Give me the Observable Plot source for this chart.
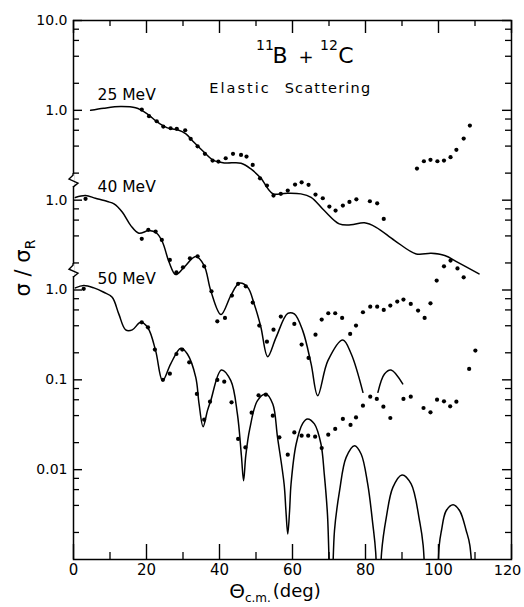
<!DOCTYPE html>
<html><head><meta charset="utf-8">
<script src="https://cdn.jsdelivr.net/npm/d3@7"></script>
<script src="https://cdn.jsdelivr.net/npm/@observablehq/plot@0.6"></script>
<style>html,body{margin:0;padding:0;background:#fff}svg{display:block}</style>
</head><body><div id="chart"></div>
<script>
// ---- data (sigma / sigma_R) ----
const energies = ["25 MeV", "40 MeV", "50 MeV"];
const offsets = [100, 10, 1]; // vertical displacement of each energy on the shared log axis

const curve25 = [[4.7,1.0],[8.3,1.055],[12.9,1.10],[17,1.066],[20.2,0.914],[23,0.737],[25.7,0.638],[28.5,0.607],[30.8,0.547],[33,0.441],[35.8,0.341],[38.1,0.281],[41.3,0.260],[45.9,0.258],[48.6,0.223],[51.3,0.176],[54.6,0.118],[57.7,0.119],[62.3,0.1175],[65.1,0.1077],[68.7,0.0766],[72.8,0.0545],[76,0.0531],[79.7,0.0559],[82.9,0.0499],[88,0.0355],[93.9,0.0252],[98,0.0256],[101.7,0.0242],[105.3,0.0203],[111.1,0.0151]];
const points25 = [[18.7,1.02],[20.7,0.860],[22.8,0.756],[24.6,0.660],[26.6,0.632],[28.3,0.622],[30.6,0.600],[32.1,0.482],[34,0.398],[36,0.328],[38.1,0.276],[39.7,0.269],[41.7,0.293],[43.7,0.328],[45.9,0.319],[47.4,0.306],[49.1,0.247],[51.1,0.175],[53,0.1455],[54.8,0.1125],[56.8,0.1175],[58.7,0.128],[60.7,0.149],[62.5,0.158],[64.4,0.148],[66.3,0.1154],[68.3,0.105],[70.1,0.0849],[71.8,0.0766],[73.8,0.0871],[75.6,0.0957],[77.5,0.1023],[81.2,0.0972],[83.2,0.0923],[85,0.0619],[94.1,0.225],[96,0.271],[97.8,0.281],[99.7,0.271],[101.5,0.276],[103.3,0.301],[104.9,0.363],[106.9,0.485],[108.6,0.677]];

const curve40a = [[0.5,1.07],[3.3,1.125],[6,1.05],[9.3,0.965],[11.1,0.909],[13.4,0.733],[15.7,0.521],[17.9,0.428],[20.7,0.459],[22.8,0.428],[24.4,0.340],[26.2,0.2034],[28,0.1484],[30.3,0.179],[33.5,0.2355],[35.8,0.187],[37.6,0.0984],[40.4,0.0532],[43.1,0.0866],[45.4,0.1189],[47.7,0.1072],[49.5,0.070],[51.3,0.0393],[53.2,0.0181],[55.5,0.0297],[58.7,0.0549],[60.5,0.0541],[62.8,0.0353],[65.1,0.01503],[66.9,0.00667],[69.7,0.01637],[73.8,0.0278],[76.1,0.0194],[79.3,0.00726]];
const curve40b = [[83.4,0.00726],[85.2,0.01164],[87,0.01289],[90.2,0.0090]];
const points40 = [[3.3,1.034],[18.7,0.371],[20.5,0.467],[22.5,0.447],[24.2,0.361],[26.4,0.2163],[28.2,0.1574],[30,0.179],[31.9,0.2254],[34,0.237],[35.8,0.1836],[37.8,0.0967],[39.4,0.0448],[41.5,0.0489],[43.4,0.0866],[45.1,0.117],[47.2,0.110],[49.1,0.0724],[50.9,0.0402],[53,0.0266],[54.8,0.0362],[56.8,0.0506],[60.5,0.0419],[62.5,0.0247],[64.4,0.01754],[66.3,0.0318],[68,0.0468],[69.8,0.0551],[71.7,0.0551],[73.6,0.0489],[75.8,0.0324],[77.4,0.0402],[79.3,0.0565],[81.3,0.0653],[83.2,0.0653],[85,0.060],[86.8,0.067],[88.7,0.0743],[90.4,0.0782],[92.4,0.070],[94.4,0.059],[96.2,0.0489],[97.8,0.0711],[99.5,0.1273],[101.5,0.1836],[103.3,0.2125],[105.2,0.174],[106.9,0.1384]];

const curve50 = [[0.5,1.055],[2.8,1.12],[5.6,1.055],[8.3,0.943],[10.6,0.829],[12.4,0.542],[14.3,0.360],[16.1,0.360],[18.4,0.437],[20.4,0.378],[22.5,0.2115],[24.4,0.098],[26.6,0.150],[29.4,0.2244],[31.2,0.194],[33.5,0.1066],[34.4,0.0539],[35.5,0.0301],[36.7,0.0454],[37.6,0.0587],[40.5,0.1289],[43.1,0.098],[44.9,0.0417],[46.0,0.0143],[46.6,0.00755],[47.2,0.0143],[48.3,0.0286],[50.4,0.0587],[52.7,0.0697],[54.6,0.0539],[55.9,0.0229],[57.7,0.00693],[58.2,0.00349],[58.7,0.00192],[59.2,0.00349],[59.6,0.00693],[61,0.0193],[62.8,0.0328],[64.1,0.0367],[66,0.0323],[67.8,0.0193],[68.7,0.00896],[69.6,0.00308],[70.6,0.0002],[71.5,0.00209],[72.9,0.00584],[74.7,0.0137],[77,0.0185],[78.8,0.01496],[80.6,0.00693],[82,0.00248],[82.8,0.00119],[83.6,0.0001],[84.4,0.00119],[85.7,0.00294],[87.5,0.00635],[90,0.00873],[92.5,0.00693],[94.8,0.0027],[95.8,0.00143],[98.2,0.00001],[100.2,0.00143],[100.8,0.00209],[102.1,0.00349],[104,0.00407],[105.8,0.00349],[107.6,0.00209],[108.6,0.00143],[110,0.0001]];
const points50 = [[2.8,1.03],[18.7,0.437],[20.4,0.384],[22.3,0.217],[24.5,0.100],[26.4,0.117],[28.2,0.194],[29.8,0.217],[31.7,0.1566],[33.8,0.0697],[35.8,0.0360],[37.4,0.0572],[39.4,0.0997],[41.3,0.0955],[43.3,0.0562],[45.1,0.0220],[47.1,0.0177],[48.8,0.0431],[50.7,0.0672],[52.7,0.0684],[54.6,0.0399],[56.4,0.0229],[58.7,0.0147],[60.5,0.0260],[62.5,0.0239],[64.3,0.0239],[66.2,0.0233],[68,0.0174],[69.8,0.0245],[71.7,0.0284],[73.8,0.0367],[75.9,0.0315],[77.4,0.0382],[79.3,0.0516],[81.3,0.065],[83.1,0.0613],[84.9,0.0503],[86.8,0.0376],[90.4,0.0613],[92.4,0.065],[95.9,0.0486],[97.8,0.0435],[99.6,0.0602],[101.5,0.0576],[103.2,0.0507],[104.9,0.0572],[108.4,0.1322],[110.1,0.2115]];

// ---- tick labels ----
const yMajor = [1000, 100, 10, 1, 0.1, 0.01];
const yTickLabels = ["10.0", "1.0", "1.0", "1.0", "0.1", "0.01"];
const yMinor = [800,600,400,200,80,60,40,20,8,6,4,2,0.8,0.6,0.4,0.2,0.08,0.06,0.04,0.02,0.008,0.006,0.004,0.002];
const xMajor = [0, 20, 40, 60, 80, 100, 120];
const xMinor = [10, 30, 50, 70, 90, 110];
const axisBreaks = [16.5, 1.64];

// ---- build tables ----
const curves = [[curve25, 0, "a"], [curve40a, 1, "a"], [curve40b, 1, "b"], [curve50, 2, "a"]];
const curveRows = curves.flatMap(([c, i, s]) => c.map(([x, v]) => ({x, y: v * offsets[i], seg: energies[i] + s})));
const pointRows = [points25, points40, points50].flatMap((p, i) => p.map(([x, v]) => ({x, y: v * offsets[i], E: energies[i]})));

const F = "DejaVu Sans, Liberation Sans, sans-serif";
const W = 524, H = 607, mL = 73, mR = 13, mT = 20, mB = 48;
const fw = W - mL - mR, fh = H - mT - mB;

const chart = Plot.plot({
  width: W, height: H,
  marginLeft: mL, marginRight: mR, marginTop: mT, marginBottom: mB,
  x: {domain: [0, 120], axis: null},
  y: {type: "log", domain: [0.001, 1000], axis: null},
  style: {fontFamily: F, background: "white", color: "black"},
  marks: [
    Plot.line(curveRows, {x: "x", y: "y", z: "seg", curve: "catmull-rom", stroke: "black", strokeWidth: 1.5, clip: true}),
    Plot.dot(pointRows, {x: "x", y: "y", r: 2.1, fill: "black", stroke: "none"}),
    Plot.frame({stroke: "black", strokeWidth: 1.5}),
    // inward ticks
    Plot.tickY(yMajor, {y: d => d, insetRight: fw - 9, stroke: "black", strokeWidth: 1.4}),
    Plot.tickY(yMinor, {y: d => d, insetRight: fw - 6, stroke: "black", strokeWidth: 1.3}),
    Plot.tickY(yMajor, {y: d => d, insetLeft: fw - 9, stroke: "black", strokeWidth: 1.4}),
    Plot.tickY(yMinor, {y: d => d, insetLeft: fw - 6, stroke: "black", strokeWidth: 1.3}),
    Plot.tickX(xMajor, {x: d => d, insetTop: fh - 15, stroke: "black", strokeWidth: 1.4}),
    Plot.tickX(xMinor, {x: d => d, insetTop: fh - 7, stroke: "black", strokeWidth: 1.3}),
    Plot.tickX(xMajor, {x: d => d, insetBottom: fh - 13, stroke: "black", strokeWidth: 1.4}),
    Plot.tickX(xMinor, {x: d => d, insetBottom: fh - 6, stroke: "black", strokeWidth: 1.3}),
    // tick labels
    Plot.text(yMajor, {y: d => d, frameAnchor: "left", dx: -6, textAnchor: "end", text: (d, i) => yTickLabels[i], fontSize: 14, letterSpacing: 0.5}),
    Plot.text(xMajor.slice(0, -1), {x: d => d, frameAnchor: "bottom", dy: 15, text: d => String(d), fontSize: 15, letterSpacing: 0.5}),
    Plot.text(xMajor.slice(-1), {x: d => d, frameAnchor: "bottom", dy: 15, dx: -4, text: d => String(d), fontSize: 14.5}),
    // energy labels
    Plot.text(energies, {x: () => 6.6, y: (d, i) => [1.32, 1.22, 1.18][i] * offsets[i], text: d => d, textAnchor: "start", lineAnchor: "bottom", fontSize: 15.5})
  ]
});
document.getElementById("chart").appendChild(chart);

// ---- decorations: axis breaks, title, axis titles ----
const svg = d3.select(chart);
const ys = chart.scale("y"), xs = chart.scale("x");
const x0 = xs.apply(0);
axisBreaks.forEach(b => {
  const y = ys.apply(b);
  svg.append("line").attr("x1", x0).attr("x2", x0).attr("y1", y - 6).attr("y2", y + 6).attr("stroke", "white").attr("stroke-width", 3);
  svg.append("path").attr("d", `M${x0},${y - 7} L${x0},${y - 5} L${x0 - 4},${y - 1} L${x0 + 5},${y + 3} L${x0},${y + 7}`)
    .attr("fill", "none").attr("stroke", "black").attr("stroke-width", 1.4);
});

const title = svg.append("text").attr("font-family", F).attr("fill", "black");
title.append("tspan").attr("x", 265).attr("y", 50).attr("font-size", 14).text("11");
title.append("tspan").attr("x", 280).attr("y", 63).attr("font-size", 22).text("B");
title.append("tspan").attr("x", 306).attr("y", 63).attr("font-size", 18).text("+");
title.append("tspan").attr("x", 329).attr("y", 50).attr("font-size", 14).text("12");
title.append("tspan").attr("x", 346).attr("y", 63).attr("font-size", 22).text("C");

svg.append("text").attr("font-family", F).attr("font-size", 14.5).attr("letter-spacing", 2).attr("x", 240).attr("y", 93).text("Elastic");
svg.append("text").attr("font-family", F).attr("font-size", 14.5).attr("letter-spacing", 1.2).attr("x", 328).attr("y", 93).text("Scattering");

const yl = svg.append("text").attr("font-family", F).attr("font-size", 21).attr("text-anchor", "middle")
  .attr("transform", "translate(30,268) rotate(-90)");
yl.append("tspan").text("σ / σ");
yl.append("tspan").attr("font-size", 14).attr("dy", 5).text("R");

const xl = svg.append("text").attr("font-family", F).attr("x", 275).attr("y", 598);
xl.append("tspan").attr("font-size", 20).text("Θ");
xl.append("tspan").attr("font-size", 12).attr("dy", 4).text("c.m.");
xl.append("tspan").attr("font-size", 18).attr("dy", -5).attr("dx", 2).text("(deg)");
</script>
</body></html>
